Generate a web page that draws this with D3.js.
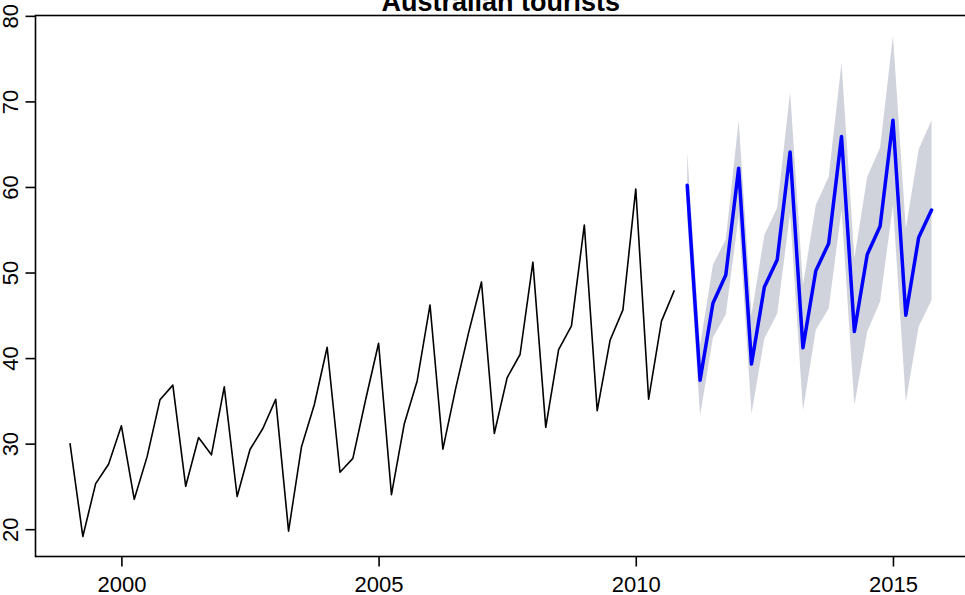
<!DOCTYPE html>
<html>
<head>
<meta charset="utf-8">
<script src="https://cdn.jsdelivr.net/npm/d3@7"></script>
<style>
  html, body { margin: 0; padding: 0; background: #fff; }
  svg { display: block; }
  text { font-family: "Liberation Sans", Arial, Helvetica, sans-serif; fill: #000; }
</style>
</head>
<body>
<svg id="chart" width="965" height="595"></svg>
<script>
// Quarterly international visitor nights in Australia (millions), 1999 Q1 - 2010 Q4
const histStart = 1999;
const histValues = [
  30.05, 19.15, 25.32, 27.59,
  32.08, 23.49, 28.48, 35.12,
  36.84, 25.01, 30.72, 28.69,
  36.64, 23.82, 29.31, 31.77,
  35.18, 19.78, 29.60, 34.54,
  41.27, 26.66, 28.28, 35.19,
  41.73, 24.04, 32.33, 37.33,
  46.21, 29.35, 36.48, 42.98,
  48.90, 31.18, 37.72, 40.42,
  51.21, 31.89, 40.98, 43.77,
  55.56, 33.85, 42.08, 45.64,
  59.77, 35.19, 44.32, 47.91
];
// Forecast 2011 Q1 - 2015 Q4
const fcStart = 2011;
const fcMean = [
  60.2, 37.4, 46.4, 49.7,
  62.2, 39.3, 48.3, 51.5,
  64.1, 41.2, 50.2, 53.4,
  65.9, 43.1, 52.1, 55.4,
  67.8, 45.0, 54.1, 57.3
];
const fcLower = [
  56.3, 33.3, 42.4, 45.1,
  56.6, 33.5, 42.3, 45.2,
  57.0, 33.9, 43.3, 45.8,
  57.3, 34.5, 43.1, 46.6,
  57.9, 34.9, 43.7, 46.8
];
const fcUpper = [
  64.1, 41.5, 50.9, 53.9,
  67.8, 45.1, 54.4, 57.6,
  71.1, 48.5, 57.9, 61.2,
  74.5, 51.7, 61.2, 64.6,
  77.7, 55.1, 64.4, 67.8
];
const xTicks = [2000, 2005, 2010, 2015];
const yTicks = [20, 30, 40, 50, 60, 70, 80];
const title = "Australian tourists";

const hist = histValues.map((v, i) => ({ t: histStart + i / 4, v }));
const fc = fcMean.map((v, i) => ({ t: fcStart + i / 4, v, lo: fcLower[i], hi: fcUpper[i] }));

// R-style 4% axis extension
const tMin = histStart, tMax = fcStart + (fcMean.length - 1) / 4;
const tExt = 0.04 * (tMax - tMin);
const vMin = d3.min([...histValues, ...fcLower]);
const vMax = d3.max([...histValues, ...fcUpper]);
const vExt = 0.04 * (vMax - vMin);

const L = 35.5, R = 966, T = 15.5, B = 556.5;
const x = d3.scaleLinear().domain([tMin - tExt, tMax + tExt]).range([L, R]);
const y = d3.scaleLinear().domain([vMin - vExt, vMax + vExt]).range([B, T]);

const svg = d3.select("#chart");

// Prediction interval band
svg.append("path")
  .datum(fc)
  .attr("fill", "#D1D3DC")
  .attr("stroke", "none")
  .attr("d", d3.area().x(d => x(d.t)).y0(d => y(d.lo)).y1(d => y(d.hi)));

// Historical series
svg.append("path")
  .datum(hist)
  .attr("fill", "none")
  .attr("stroke", "#000")
  .attr("stroke-width", 1.6)
  .attr("stroke-linejoin", "round")
  .attr("d", d3.line().x(d => x(d.t)).y(d => y(d.v)));

// Forecast mean
svg.append("path")
  .datum(fc)
  .attr("fill", "none")
  .attr("stroke", "#0000FF")
  .attr("stroke-width", 3.5)
  .attr("stroke-linejoin", "round")
  .attr("stroke-linecap", "round")
  .attr("d", d3.line().x(d => x(d.t)).y(d => y(d.v)));

// Box
svg.append("rect")
  .attr("x", L).attr("y", T)
  .attr("width", R - L).attr("height", B - T)
  .attr("fill", "none").attr("stroke", "#000").attr("stroke-width", 1.6);

// Bottom axis
const xAxis = svg.append("g").attr("transform", `translate(0,${B})`)
  .call(d3.axisBottom(x).tickValues(xTicks).tickFormat(d3.format("d")).tickSize(10).tickSizeOuter(0));
xAxis.select(".domain").remove();
xAxis.selectAll(".tick line").attr("stroke", "#000").attr("stroke-width", 1.6);
xAxis.selectAll(".tick text")
  .attr("y", 35.5).attr("dy", null)
  .style("font-size", "22px").style("font-family", "Liberation Sans, Arial, sans-serif");

// Left axis
const yAxis = svg.append("g").attr("transform", `translate(${L},0)`)
  .call(d3.axisLeft(y).tickValues(yTicks).tickFormat(d3.format("d")).tickSize(10).tickSizeOuter(0));
yAxis.select(".domain").remove();
yAxis.selectAll(".tick line").attr("stroke", "#000").attr("stroke-width", 1.6);
yAxis.selectAll(".tick text")
  .attr("x", null).attr("dy", null)
  .attr("text-anchor", "middle")
  .attr("transform", "translate(-17.5,0) rotate(-90)")
  .style("font-size", "22px").style("font-family", "Liberation Sans, Arial, sans-serif");

// Title
svg.append("text")
  .attr("x", (L + R) / 2).attr("y", 11)
  .attr("text-anchor", "middle")
  .style("font-size", "27px").style("font-weight", "bold")
  .text(title);
</script>
</body>
</html>
